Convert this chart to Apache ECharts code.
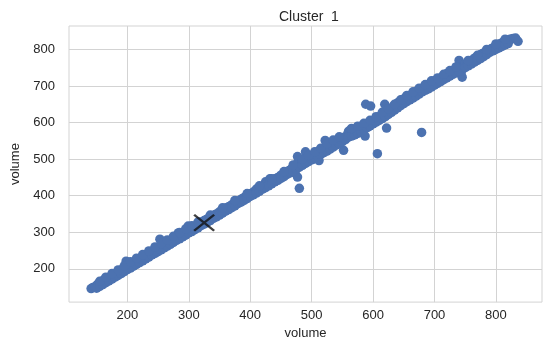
<!DOCTYPE html>
<html lang="en">
<head>
  <meta charset="UTF-8">
  <title>Cluster 1</title>
  <style>
    body { margin: 0; background: #fff; }
    #chart { width: 543px; height: 345px; }
  </style>
  <script src="https://cdn.jsdelivr.net/npm/echarts@6/dist/echarts.min.js"></script>
</head>
<body>
  <div id="chart"></div>
  <script>
    // points of the cluster: [volume, volume]
    const clusterPoints = [
      [141,146],[144,149],[147,150],[150,155],[152,158],[155,158],[158,162],[160,167],[162,170],[165,168],
      [168,172],[170,176],[173,175],[175,180],[178,182],[180,186],[182,181],[185,190],[188,192],[190,197],
      [192,194],[195,200],[198,205],[198,221],[200,210],[202,204],[205,212],[208,215],[210,210],[212,220],
      [215,218],[218,225],[220,222],[222,230],[225,228],[228,235],[230,232],[232,240],[235,238],[238,246],
      [240,242],[242,250],[245,248],[248,255],[250,250],[252,258],[253,281],[255,262],[258,258],[260,266],
      [262,262],[265,272],[268,268],[270,276],[272,272],[275,282],[278,280],[280,290],[282,284],[283,298],
      [285,292],[288,290],[290,298],[292,294],[295,302],[298,300],[299,317],[300,306],[302,310],[305,308],
      [308,315],[310,312],[312,318],[315,322],[318,322],[320,328],[322,326],[325,332],[328,334],[330,336],
      [333,338],[335,342],[338,343],[340,346],[343,348],[345,350],[348,352],[350,356],[353,356],[355,360],
      [358,362],[360,366],[363,366],[365,370],[368,372],[370,375],[373,376],[375,380],[378,382],[380,385],
      [383,386],[385,390],[388,392],[390,395],[393,396],[395,400],[398,402],[400,405],[403,406],[405,410],
      [408,412],[410,418],[412,414],[415,420],[418,420],[420,425],[423,428],[425,438],[425,430],[428,432],
      [430,434],[432,446],[433,438],[435,440],[438,442],[440,446],[443,446],[445,450],[448,452],[450,456],
      [453,458],[455,460],[458,462],[460,466],[463,468],[465,470],[468,474],[470,478],[472,476],[475,485],
      [477,507],[477,451],[478,492],[480,420],[480,498],[482,488],[485,494],[488,496],[490,520],[490,500],
      [493,502],[495,506],[498,508],[500,510],[503,512],[505,516],[508,516],[510,520],[512,496],[513,524],
      [515,522],[518,528],[520,528],[522,551],[523,534],[525,532],[528,538],[530,536],[533,540],[535,545],
      [538,544],[540,548],[543,552],[545,550],[548,556],[550,555],[552,524],[553,560],[555,558],[558,566],
      [560,576],[562,570],[564,580],[566,574],[568,578],[570,572],[572,582],[575,578],[578,584],[580,578],
      [582,588],[585,585],[587,563],[588,590],[588,650],[590,594],[592,588],[595,598],[596,645],[598,602],
      [600,600],[602,606],[605,610],[607,515],[608,606],[610,614],[612,618],[615,620],[618,622],[619,650],
      [620,626],[622,585],[623,628],[625,632],[628,638],[630,640],[633,644],[635,646],[638,650],[640,654],
      [643,656],[645,660],[648,662],[650,664],[653,668],[655,670],[658,672],[660,674],[663,676],[665,680],
      [668,682],[670,684],[673,688],[675,688],[678,692],[679,573],[680,694],[683,696],[685,700],[688,700],
      [690,704],[693,706],[695,708],[698,710],[700,714],[703,716],[705,718],[708,720],[710,722],[713,724],
      [715,728],[718,730],[720,734],[723,734],[725,738],[728,740],[730,742],[733,744],[735,748],[738,750],
      [740,770],[740,752],[742,760],[743,735],[745,745],[745,724],[747,752],[748,758],[750,760],[753,762],
      [755,766],[758,768],[760,770],[763,772],[765,776],[768,776],[770,780],[773,782],[775,786],[778,788],
      [780,790],[783,792],[785,796],[788,798],[790,800],[793,802],[795,804],[798,806],[800,810],[803,812],
      [805,814],[808,816],[810,818],[813,820],[815,824],[818,822],[820,826],[823,828],[825,828],[828,830],
      [832,831],[836,822],
      // lower edge of the band
      [150,147],[155,152],[160,157],[165,162],[170,167],[175,172],[180,177],[185,182],[190,187],[195,192],
      [200,198],[205,202],[210,207],[215,212],[220,217],[225,222],[230,227],[235,232],[240,238],[245,242],
      [250,247],[255,252],[260,257],[265,262],[270,267],[275,272],[280,278],[285,282],[290,287],[295,292],
      [300,298],[305,302],[310,307],[315,312],[320,318],[325,322],[330,327],[335,332],[340,338],[345,342],
      [350,347],[355,352],[360,358],[365,362],[370,367],[375,372],[380,378],[385,382],[390,387],[395,392],
      [400,398],[405,402],[410,407],[415,412],[420,418],[425,422],[430,427],[435,432],[440,438],[445,442],
      [450,447],[455,452],[460,458],[465,462],[470,467],[475,472],[480,478],[485,483],[490,488],[495,493],
      [500,498],[505,503],[510,508],[515,513],[520,518],[525,522],[530,527],[535,533],[540,538],[545,543],
      [550,548],[555,553],[560,560],[565,563],[570,566],[575,570],[580,574],[585,580],[590,586],[595,591],
      [600,596],[605,601],[610,606],[615,611],[620,616],[625,622],[630,628],[635,634],[640,640],[645,646],
      [650,652],[655,657],[660,662],[665,667],[670,672],[675,678],[680,684],[685,688],[690,692],[695,697],
      [700,702],[705,707],[710,712],[715,717],[720,722],[725,727],[730,732],[735,736],[740,740],[750,750],
      [755,755],[760,760],[765,765],[770,770],[775,775],[780,780],[785,786],[790,792],[795,796],[800,800],
      [805,804],[810,808],[815,812],[820,816],
      // upper edge of the band
      [155,166],[165,177],[175,187],[185,197],[195,208],[205,219],[215,229],[225,239],[235,249],[245,260],
      [255,269],[265,279],[275,289],[285,299],[295,309],[305,318],[315,328],[335,347],[355,367],[375,387],
      [395,406],[415,427],[435,446],[455,466],[470,484],[485,500],[495,510],[505,520],[515,530],[525,542],
      [535,552],[545,561],[565,584],[575,590],[585,598],[595,606],[605,616],[615,628],[625,638],[635,650],
      [645,662],[655,674],[665,684],[675,694],[685,704],[695,714],[705,722],[715,732],[725,742],[735,752],
      [755,770],[770,784],[785,800],[800,815],[815,828]
    ];
    const centroid = [[325, 326]];
    const xTicks = [200, 300, 400, 500, 600, 700, 800];
    const yTicks = [200, 300, 400, 500, 600, 700, 800];

    const textColor = '#262626';
    const gridColor = '#d3d3d3';
    const font = 'Liberation Sans, Arial, sans-serif';

    const chart = echarts.init(document.getElementById('chart'));
    chart.setOption({
      animation: false,
      title: {
        text: 'Cluster  1',
        left: 274,
        top: 5,
        textStyle: { color: textColor, fontSize: 14, fontWeight: 'normal', fontFamily: font }
      },
      grid: {
        left: 69, right: 1, top: 26, bottom: 37,
        show: true, borderColor: gridColor, borderWidth: 1
      },
      xAxis: {
        type: 'value',
        min: 105, max: 875,
        name: 'volume',
        nameLocation: 'middle',
        nameGap: 23,
        nameTextStyle: { color: textColor, fontSize: 13, fontFamily: font },
        axisLine: { show: false },
        axisTick: { show: false, customValues: xTicks },
        axisLabel: { customValues: xTicks, color: textColor, fontSize: 13, fontFamily: font, margin: 7 },
        splitLine: { show: true, lineStyle: { color: gridColor, width: 1 } }
      },
      yAxis: {
        type: 'value',
        min: 109, max: 864,
        name: 'volume',
        nameLocation: 'middle',
        nameGap: 43,
        nameTextStyle: { color: textColor, fontSize: 13, fontFamily: font },
        axisLine: { show: false },
        axisTick: { show: false, customValues: yTicks },
        axisLabel: { customValues: yTicks, color: textColor, fontSize: 13, fontFamily: font, margin: 14 },
        splitLine: { show: true, lineStyle: { color: gridColor, width: 1 } }
      },
      series: [
        {
          type: 'scatter',
          data: clusterPoints,
          symbolSize: 9.5,
          itemStyle: { color: '#4c72b0', opacity: 1 }
        },
        {
          type: 'scatter',
          data: centroid,
          symbol: 'path://M0,0L10,10M10,0L0,10',
          symbolSize: [20, 16],
          z: 5,
          itemStyle: { color: 'none', borderColor: '#111', borderWidth: 2.2 }
        }
      ]
    });
  </script>
</body>
</html>
